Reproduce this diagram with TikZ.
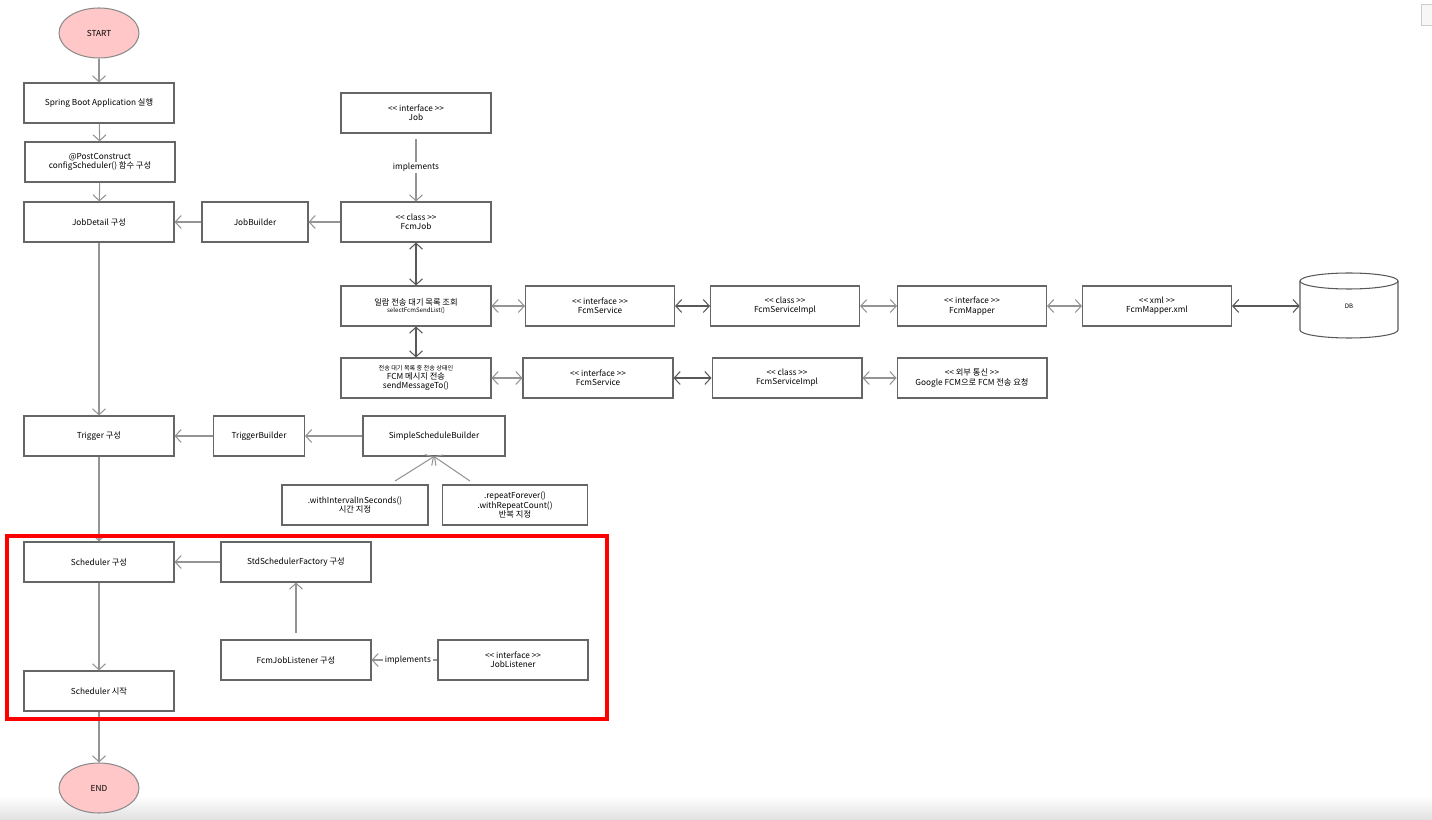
\documentclass[tikz,border=0pt]{standalone}
\usepackage{fontspec}
\setmainfont{Noto Sans CJK KR}
\usetikzlibrary{arrows.meta,shapes.geometric}

\begin{document}
\begin{tikzpicture}[x=0.02cm,y=-0.02cm,
    >={Straight Barb[length=0.12cm,width=0.26cm]},
    every node/.style={font=\fontsize{4.7}{5.3}\selectfont,align=center},
    box/.style={draw=black!60,line width=0.6pt,minimum width=3cm,minimum height=0.8cm,inner sep=1pt},
    term/.style={ellipse,draw=black!45,line width=0.6pt,fill=red!22,minimum width=1.6cm,minimum height=1cm},
    flow/.style={draw=black!42,line width=0.6pt},
    link/.style={draw=black!65,line width=0.6pt},
    tag/.style={fill=white,inner sep=1pt}]
    \useasboundingbox (0,0) rectangle (1432,820);
    % page edges
    \shade[top color=white,bottom color=black!12] (0,796) rectangle (1432,820);
    \draw[black!20,fill=black!3] (1421,4) rectangle (1440,25);
    % main flow
    \node[term] (start) at (99,33) {START};
    \node[box] (boot) at (99,103) {Spring Boot Application 실행};
    \node[box] (post) at (100,162) {@PostConstruct\\configScheduler() 함수 구성};
    \node[box] (detail) at (99,222) {JobDetail 구성};
    \node[box] (trig) at (99,436) {Trigger 구성};
    \node[box] (sched) at (99,562) {Scheduler 구성};
    \node[box] (run) at (99,691) {Scheduler 시작};
    \node[term] (end) at (99,788) {END};
    \draw[flow,->] (start) -- (boot);
    \draw[flow,->] (boot) -- (post);
    \draw[flow,->] (post) -- (detail);
    \draw[flow,->] (detail) -- (trig);
    \draw[flow,->] (trig) -- (sched);
    \draw[flow,->] (sched) -- (run);
    \draw[flow,->] (run) -- (end);
    % job
    \node[box,minimum width=2.12cm] (jbuild) at (255,222) {JobBuilder};
    \node[box] (job) at (416,113) {<{}< interface >{}>\\Job};
    \node[box] (fjob) at (416,222) {<{}< class >{}>\\FcmJob};
    \draw[flow,->] (jbuild) -- (detail);
    \draw[flow,->] (fjob) -- (jbuild);
    \draw[flow,->,shorten <=5\pgflinewidth] (job) -- node[tag] {implements} (fjob);
    % select row
    \node[box] (sel) at (416,306) {일람 전송 대기 목록 조회\\[-1pt]{\fontsize{3.5}{4}\selectfont selectFcmSendList()}};
    \node[box,minimum width=2.98cm] (svc) at (600,306) {<{}< interface >{}>\\FcmService};
    \node[box,minimum width=2.98cm] (impl) at (785,306) {<{}< class >{}>\\FcmServiceImpl};
    \node[box,minimum width=2.98cm] (mapper) at (972,306) {<{}< interface >{}>\\FcmMapper};
    \node[box,minimum width=2.98cm] (xml) at (1157,306) {<{}< xml >{}>\\FcmMapper.xml};
    \node[minimum width=1.96cm,minimum height=1.3cm] (db) at (1349,306) {\fontsize{3.5}{4}\selectfont DB};
    \draw[black!65,line width=0.6pt] (1300,281) -- (1300,330) arc[start angle=180,end angle=360,x radius=0.98cm,y radius=0.16cm] -- (1398,281);
    \draw[black!65,line width=0.6pt] (1349,281) ellipse[x radius=0.98cm,y radius=0.16cm];
    \draw[link,<->] (fjob) -- (sel);
    \draw[flow,<->] (sel) -- (svc);
    \draw[link,<->] (svc) -- (impl);
    \draw[flow,<->] (impl) -- (mapper);
    \draw[flow,<->] (mapper) -- (xml);
    \draw[link,<->] (xml) -- (db);
    % send row
    \node[box] (send) at (416,378) {{\fontsize{3.5}{4}\selectfont 전송 대기 목록 중 전송 상태인}\\FCM 메시지 전송\\sendMessageTo()};
    \node[box] (svc2) at (598,378) {<{}< interface >{}>\\FcmService};
    \node[box] (impl2) at (787,378) {<{}< class >{}>\\FcmServiceImpl};
    \node[box] (ext) at (972,378) {<{}< 외부 통신 >{}>\\Google FCM으로 FCM 전송 요청};
    \draw[link,<->] (sel) -- (send);
    \draw[flow,<->] (send) -- (svc2);
    \draw[link,<->] (svc2) -- (impl2);
    \draw[flow,<->] (impl2) -- (ext);
    % trigger
    \node[box,minimum width=1.82cm] (tbuild) at (259,436) {TriggerBuilder};
    \node[box,minimum width=2.84cm] (ssb) at (434,436) {SimpleScheduleBuilder};
    \node[box,minimum width=2.92cm] (intv) at (355,505) {.withIntervalInSeconds()\\시간 지정};
    \node[box,minimum width=2.9cm] (rep) at (515,505) {.repeatForever()\\.withRepeatCount()\\반복 지정};
    \coordinate (intvtop) at (395,481);
    \coordinate (reptop) at (470,481);
    \draw[flow,->] (tbuild) -- (trig);
    \draw[flow,->] (ssb) -- (tbuild);
    \draw[flow,->] (intvtop) -- (ssb.south);
    \draw[flow,->] (reptop) -- (ssb.south);
    % scheduler
    \draw[red,line width=0.08cm] (7,536) rectangle (607,719);
    \node[box] (factory) at (296,562) {StdSchedulerFactory 구성};
    \node[box] (lsn) at (296,660) {FcmJobListener 구성};
    \node[box] (ilsn) at (513,660) {<{}< interface >{}>\\JobListener};
    \draw[flow,->] (factory) -- (sched);
    \draw[flow,->,shorten <=6\pgflinewidth] (lsn) -- (factory);
    \draw[flow,->] (ilsn) -- node[tag,pos=0.45] {implements} (lsn);
\end{tikzpicture}
\end{document}
